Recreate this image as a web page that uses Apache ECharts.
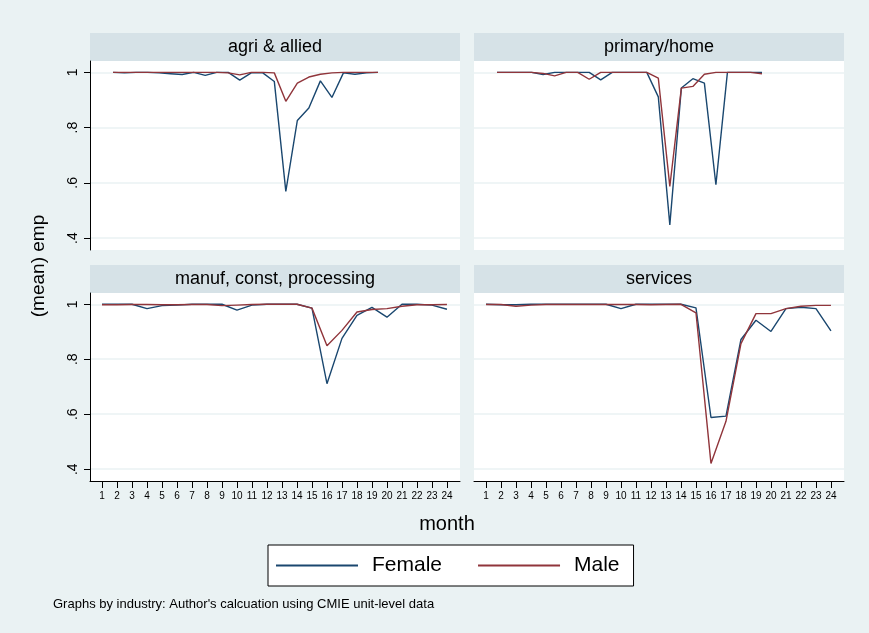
<!DOCTYPE html>
<html>
<head>
<meta charset="utf-8">
<script src="https://cdn.jsdelivr.net/npm/echarts@6/dist/echarts.min.js"></script>
<style>
html,body{margin:0;padding:0;background:#eaf2f3;}
#chart{width:869px;height:633px;}
</style>
</head>
<body>
<div id="chart"></div>
<script>
// ---- data ----
const months = [1,2,3,4,5,6,7,8,9,10,11,12,13,14,15,16,17,18,19,20,21,22,23,24];
const panelTitles = ['agri & allied', 'primary/home', 'manuf, const, processing', 'services'];
const seriesNames = ['Female', 'Male'];

const agriFemale = [1.0,0.998,1.0,1.0,0.998,0.995,0.992,1.0,0.989,1.0,1.0,0.972,0.998,0.998,0.967,0.569,0.826,0.871,0.969,0.909,0.998,0.993,0.998,1.0];
const agriMale   = [1.0,1.0,1.0,1.0,1.0,1.0,1.0,1.0,1.0,1.0,0.998,0.991,1.0,1.0,0.998,0.895,0.961,0.983,0.993,0.998,1.0,1.0,1.0,1.0];

const primaryFemale = [1.0,1.0,1.0,1.0,0.992,1.0,1.0,1.0,1.0,0.973,1.0,1.0,1.0,1.0,0.911,0.448,0.943,0.977,0.961,0.593,1.0,1.0,1.0,1.0];
const primaryMale   = [1.0,1.0,1.0,1.0,0.996,0.987,1.0,1.0,0.975,1.0,1.0,1.0,1.0,1.0,0.979,0.587,0.943,0.949,0.993,1.0,1.0,1.0,1.0,0.995];

const manufFemale = [1.0,1.0,1.0,0.984,0.995,0.997,1.0,1.0,1.0,0.979,0.997,1.0,1.0,1.0,0.986,0.711,0.876,0.960,0.989,0.953,1.0,1.0,0.997,0.982];
const manufMale   = [0.998,0.998,0.999,0.999,0.998,0.998,0.999,0.999,0.995,0.997,0.999,1.0,1.0,1.0,0.986,0.849,0.905,0.972,0.981,0.984,0.993,0.998,0.998,0.999];

const servicesFemale = [1.0,0.998,0.998,1.0,1.0,1.0,1.0,1.0,1.0,0.984,1.0,1.0,1.0,1.0,0.987,0.588,0.593,0.872,0.942,0.901,0.984,0.989,0.984,0.903];
const servicesMale   = [0.999,0.999,0.993,0.997,0.999,0.999,0.999,0.999,0.999,0.999,0.999,0.998,0.999,1.0,0.969,0.421,0.574,0.857,0.966,0.966,0.984,0.993,0.996,0.996];

const yTickValues = [0.4, 0.6, 0.8, 1.0];
const yTickLabels = ['.4', '.6', '.8', '1'];

// ---- layout / style ----
const FONT = '"Liberation Sans", Arial, sans-serif';
const COL_F = '#1a476f';
const COL_M = '#90353b';
const BG = '#eaf2f3';
const STRIP = '#d6e2e7';
const GRIDC = '#eaf2f3';

const panelData = [
  [agriFemale, agriMale],
  [primaryFemale, primaryMale],
  [manufFemale, manufMale],
  [servicesFemale, servicesMale]
];
const gridBoxes = [
  {left: 90, top: 61, width: 370, height: 189},
  {left: 474, top: 61, width: 370, height: 189},
  {left: 90, top: 293, width: 370, height: 188},
  {left: 474, top: 293, width: 370, height: 188}
];

const grids = gridBoxes.map(g => Object.assign({show: true, backgroundColor: '#ffffff', borderWidth: 0}, g));

function yLabel(v) {
  for (let i = 0; i < yTickValues.length; i++) if (Math.abs(v - yTickValues[i]) < 1e-6) return yTickLabels[i];
  return '';
}

const xAxes = gridBoxes.map((g, i) => {
  const bottom = i >= 2;
  return {
    type: 'value', gridIndex: i,
    min: bottom ? 0.2 : -1, max: bottom ? 24.87 : 31.12,
    show: true,
    axisLine: {show: bottom, onZero: false, lineStyle: {color: '#000', width: 1}},
    axisTick: {show: bottom, length: 7, customValues: months, lineStyle: {color: '#000', width: 1}},
    axisLabel: {show: bottom, customValues: months, fontFamily: FONT, fontSize: 10, color: '#000', margin: 10},
    splitLine: {show: false}
  };
});

const yAxes = gridBoxes.map((g, i) => {
  const left = (i % 2) === 0;
  return {
    type: 'value', gridIndex: i, min: 0.357, max: 1.041, position: 'left',
    axisLine: {show: left, onZero: false, lineStyle: {color: '#000', width: 1}},
    axisTick: {show: left, length: 6, customValues: yTickValues, lineStyle: {color: '#000', width: 1}},
    axisLabel: {show: left, customValues: yTickValues, rotate: 90, formatter: yLabel, fontFamily: FONT, fontSize: 14, color: '#000', margin: 10},
    splitLine: {show: true, lineStyle: {color: GRIDC, width: 1.5}}
  };
});

const series = [];
panelData.forEach((pd, i) => {
  pd.forEach((vals, k) => {
    series.push({
      name: seriesNames[k], type: 'line', xAxisIndex: i, yAxisIndex: i,
      data: months.map((m, j) => [m, vals[j]]),
      showSymbol: false, symbol: 'none', silent: true, animation: false,
      lineStyle: {color: k === 0 ? COL_F : COL_M, width: 1.4},
      itemStyle: {color: k === 0 ? COL_F : COL_M},
      z: k === 0 ? 2 : 3
    });
  });
});

const graphics = [];
gridBoxes.forEach((g, i) => {
  graphics.push({type: 'rect', shape: {x: g.left, y: g.top - 28, width: g.width, height: 28}, style: {fill: STRIP}, silent: true});
  graphics.push({type: 'text', x: g.left + g.width / 2, y: g.top - 14,
    style: {text: panelTitles[i], font: '18px ' + FONT, fill: '#000', textAlign: 'center', textVerticalAlign: 'middle'}, silent: true});
});
graphics.push({type: 'text', x: 39, y: 266, rotation: Math.PI / 2,
  style: {text: '(mean) emp', font: '19px ' + FONT, fill: '#000', textAlign: 'center', textVerticalAlign: 'middle'}});
graphics.push({type: 'text', x: 447, y: 524,
  style: {text: 'month', font: '20px ' + FONT, fill: '#000', textAlign: 'center', textVerticalAlign: 'middle'}});
graphics.push({type: 'text', x: 53, y: 604,
  style: {text: "Graphs by industry: Author's calcuation using CMIE unit-level data", font: '13px ' + FONT, fill: '#000', textAlign: 'left', textVerticalAlign: 'middle'}});

const option = {
  backgroundColor: BG,
  animation: false,
  grid: grids,
  xAxis: xAxes,
  yAxis: yAxes,
  series: series,
  legend: {
    show: true, data: seriesNames, left: 268, top: 545,
    orient: 'horizontal', icon: 'rect', itemWidth: 82, itemHeight: 2, itemGap: 36,
    padding: [10, 14, 10, 8],
    backgroundColor: '#ffffff', borderColor: '#000', borderWidth: 1, borderRadius: 0,
    textStyle: {fontFamily: FONT, fontSize: 21, color: '#000', padding: [0, 0, 0, 9]},
    selectedMode: false
  },
  graphic: graphics
};

const chart = echarts.init(document.getElementById('chart'), null, {renderer: 'canvas'});
chart.setOption(option);
</script>
</body>
</html>
